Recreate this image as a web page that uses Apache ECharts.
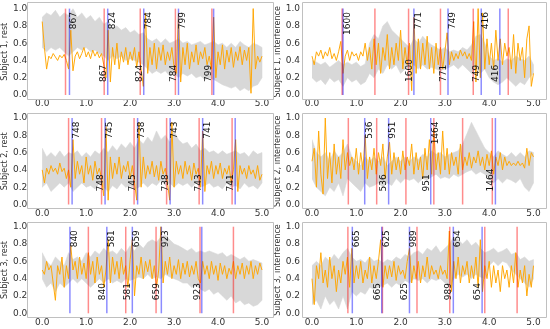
<!DOCTYPE html>
<html><head><meta charset="utf-8">
<script src="https://cdn.jsdelivr.net/npm/echarts@6/dist/echarts.min.js"></script>
<style>html,body{margin:0;padding:0;background:#fff}#c{width:550px;height:329px}</style>
</head><body><div id="c"></div>
<script>
// ---- sample times ----
const T_FINE = [0,.05,.1,.15,.2,.25,.3,.35,.4,.45,.5,.55,.6,.65,.7,.75,.8,.85,.9,.95,
1,1.05,1.1,1.15,1.2,1.25,1.3,1.35,1.4,1.45,1.5,1.55,1.6,1.65,1.7,1.75,1.8,1.85,1.9,1.95,
2,2.05,2.1,2.15,2.2,2.25,2.3,2.35,2.4,2.45,2.5,2.55,2.6,2.65,2.7,2.75,2.8,2.85,2.9,2.95,
3,3.05,3.1,3.15,3.2,3.25,3.3,3.35,3.4,3.45,3.5,3.55,3.6,3.65,3.7,3.75,3.8,3.85,3.9,3.95,
4,4.05,4.1,4.15,4.2,4.25,4.3,4.35,4.4,4.45,4.5,4.55,4.6,4.65,4.7,4.75,4.8,4.85,4.9,4.95,5];
const T_BAND = [0,.1,.2,.3,.4,.5,.6,.7,.8,.9,1,1.1,1.2,1.3,1.4,1.5,1.6,1.7,1.8,1.9,
2,2.1,2.2,2.3,2.4,2.5,2.6,2.7,2.8,2.9,3,3.1,3.2,3.3,3.4,3.5,3.6,3.7,3.8,3.9,
4,4.1,4.2,4.3,4.4,4.5,4.6,4.7,4.8,4.9,5];
const X_TICKS = [0,1,2,3,4,5];
const Y_TICKS = [0,0.2,0.4,0.6,0.8,1.0];
const PANEL_NAMES = ['Subject 1, rest','Subject 1, interference','Subject 2, rest','Subject 2, interference','Subject 3, rest','Subject 3, interference'];

// ---- Subject 1, rest ----
const S1R_ORANGE = [.85,.55,.30,.45,.42,.48,.44,.40,.46,.43,.47,.40,.30,.75,.28,.45,.50,.42,.48,.55,
.44,.50,.42,.52,.45,.50,.43,.48,.35,.20,.75,.15,.55,.35,.60,.30,.50,.38,.55,.35,
.50,.40,.55,.32,.50,.30,.10,.95,.25,.55,.35,.60,.30,.55,.40,.58,.35,.50,.40,.55,
.32,.25,.95,.15,.55,.35,.60,.30,.50,.38,.58,.35,.50,.42,.55,.35,.45,.30,.90,.20,
.50,.35,.58,.30,.52,.38,.55,.32,.50,.40,.56,.35,.52,.40,.55,.02,1.0,.30,.45,.38,.45];
const S1R_HI = [.90,.95,.92,.98,.90,.95,.92,1.0,.90,.95,.88,.92,.85,.90,.82,.85,.78,.80,.75,.78,
.72,.75,.70,.72,.65,.62,.65,.60,.65,.60,.62,.65,.60,.62,.58,.60,.62,.58,.60,.62,
.58,.60,.55,.60,.55,.62,.58,.55,.60,.58,.55];
const S1R_LO = [.55,.50,.55,.52,.55,.50,.45,.50,.55,.52,.55,.50,.52,.48,.45,.40,.45,.42,.45,.40,
.42,.40,.38,.35,.30,.25,.28,.25,.28,.22,.25,.20,.25,.22,.25,.20,.22,.18,.20,.18,
.15,.12,.10,.08,.10,.05,.08,.05,.10,.12,.20];
const S1R_RED = [0.53,1.41,2.23,3.03,3.86];
const S1R_BLUE = [0.62,1.49,2.31,3.10,3.90];
const S1R_LABELS = ['867','824','784','799'];

// ---- Subject 1, interference ----
const S1I_ORANGE = [.45,.35,.50,.45,.52,.42,.50,.45,.55,.42,.48,.40,.50,.62,.25,.45,.52,.40,.50,.45,
.48,.40,.50,.45,.60,.40,.55,.30,.65,.35,.60,.25,.55,.40,.70,.30,.55,.35,.60,.40,
.75,.30,.55,.35,.60,.05,.90,.25,.65,.30,.60,.35,.68,.30,.55,.25,.60,.35,.55,.30,
.50,.72,.35,.50,.40,.48,.42,.52,.45,.50,.42,.48,.40,.85,.15,1.0,.20,.95,.30,.65,
.35,.60,.30,.75,.40,.65,.35,.60,.45,.55,.30,.70,.25,.60,.40,.55,.20,.65,.80,.10,.25];
const S1I_HI = [.40,.38,.35,.38,.32,.36,.40,.35,.38,.35,.38,.33,.36,.60,.70,.65,.80,.85,.75,.70,
.65,.60,.55,.65,.60,.68,.62,.58,.55,.52,.55,.50,.52,.50,.55,.52,.58,.68,.70,.60,
.45,.40,.42,.38,.42,.40,.45,.42,.40,.45,.35];
const S1I_LO = [.20,.15,.18,.12,.20,.15,.18,.10,.20,.15,.18,.12,.15,.25,.20,.30,.25,.35,.30,.35,
.25,.30,.30,.35,.30,.35,.30,.32,.30,.28,.30,.32,.35,.30,.35,.30,.25,.30,.25,.30,
.20,.15,.12,.15,.20,.15,.10,.15,.12,.20,.25];
const S1I_RED = [0.68,1.42,2.18,2.90,3.64,4.43];
const S1I_BLUE = [0.70,2.30,3.07,3.82,4.24];
const S1I_LABELS = ['1600','771','749','416'];

// ---- Subject 2, rest ----
const S2R_ORANGE = [.40,.25,.42,.35,.45,.38,.42,.35,.48,.38,.42,.30,.40,.20,.75,.30,.50,.35,.45,.25,
.55,.35,.45,.28,.50,.35,.42,.30,.10,.90,.05,.55,.30,.48,.35,.55,.30,.45,.38,.50,
.30,.45,.25,.05,.95,.20,.55,.30,.45,.35,.50,.32,.45,.28,.50,.35,.42,.25,.05,.95,
.20,.50,.35,.45,.30,.50,.35,.45,.28,.48,.35,.42,.20,.85,.15,.45,.35,.50,.30,.45,
.35,.48,.30,.42,.35,.45,.25,.40,.75,.15,.45,.35,.42,.30,.45,.35,.40,.30,.45,.28,.35];
const S2R_HI = [.65,.55,.60,.55,.62,.55,.60,.58,.62,.55,.60,.55,.62,.58,.65,.60,.68,.62,.70,.65,
.72,.65,.75,.70,.78,.72,.85,.75,.80,.72,.85,.75,.70,.72,.65,.70,.62,.65,.60,.62,
.58,.62,.58,.60,.62,.58,.60,.55,.62,.58,.60];
const S2R_LO = [.20,.25,.15,.20,.25,.20,.25,.15,.20,.25,.20,.22,.18,.25,.20,.15,.22,.18,.25,.20,
.22,.18,.20,.25,.20,.25,.22,.28,.22,.25,.20,.25,.22,.25,.20,.25,.20,.22,.25,.20,
.22,.18,.25,.20,.22,.18,.25,.20,.22,.18,.25];
const S2R_RED = [0.60,1.35,2.09,2.83,3.57,4.32];
const S2R_BLUE = [0.68,1.43,2.17,2.91,3.65,4.39];
const S2R_LABELS = ['748','745','738','743','741'];

// ---- Subject 2, interference ----
const S2I_ORANGE = [.50,.65,.20,.85,.35,.12,1.0,.30,.60,.25,.70,.35,.55,.30,.75,.40,.60,.45,.55,.40,
.65,.35,.60,.40,.80,.30,.55,.40,.65,.35,.60,.45,.70,.30,.55,.72,.35,.60,.40,.55,
.35,.62,.40,.55,.45,.70,.35,.60,.40,.55,.30,.65,.40,.75,.35,.88,.40,.60,.35,.85,
.40,.65,.35,.60,.45,.55,.35,.70,.40,.55,.45,.60,.42,.55,.48,.62,.45,.55,.40,.58,
.45,.62,.35,.55,.45,.60,.40,.55,.45,.50,.45,.48,.45,.50,.45,.48,.42,.65,.45,.60,.55];
const S2I_HI = [.75,.60,.55,.60,.50,.62,.55,.60,.70,.55,.50,.45,.55,.50,.55,.50,.55,.45,.50,.55,
.50,.55,.50,.55,.52,.58,.55,.62,.58,.60,.55,.58,.60,.62,.70,.82,.95,.85,.75,.65,
.60,.55,.62,.58,.55,.60,.55,.60,.55,.62,.60];
const S2I_LO = [.30,.20,.15,.10,.20,.15,.25,.10,.30,.25,.20,.15,.25,.20,.22,.25,.20,.25,.22,.30,
.25,.30,.28,.30,.25,.30,.28,.32,.35,.30,.32,.30,.35,.32,.35,.38,.40,.35,.38,.35,
.30,.25,.30,.25,.30,.28,.25,.30,.20,.15,.25];
const S2I_RED = [0.82,1.46,2.12,2.75,3.40,4.07];
const S2I_BLUE = [1.19,1.73,2.68,4.14];
const S2I_LABELS = ['536','951','1464'];

// ---- Subject 3, rest ----
const S3R_ORANGE = [.50,.45,.60,.50,.55,.35,.15,.55,.45,.65,.30,.55,.40,.78,.50,.60,.40,.65,.45,.58,
.40,.70,.45,.60,.35,.65,.45,.55,.30,.50,.85,.35,.65,.45,.60,.40,.65,.45,.55,.30,
.62,.85,.20,.55,.45,.65,.40,.60,.48,.62,.40,.55,.30,.50,1.0,.35,.60,.45,.65,.40,
.55,.45,.62,.40,.58,.45,.60,.42,.55,.45,.60,.40,.35,.60,.45,.55,.40,.60,.45,.55,
.38,.58,.45,.55,.40,.52,.45,.60,.40,.55,.45,.58,.40,.55,.45,.60,.40,.55,.45,.58,.50];
const S3R_HI = [.70,.60,.55,.65,.60,.55,.70,.62,.65,.60,.70,.65,.72,.68,.75,.70,.72,.68,.75,.70,
.78,.72,.80,.75,.82,.85,.82,.88,.90,.85,.80,.78,.75,.72,.75,.70,.72,.70,.72,.70,
.68,.70,.65,.68,.65,.62,.65,.60,.62,.60,.58];
const S3R_LO = [.40,.30,.35,.25,.35,.30,.35,.40,.35,.40,.35,.30,.35,.40,.35,.40,.35,.38,.35,.40,
.38,.40,.42,.40,.45,.40,.42,.40,.45,.42,.40,.38,.35,.35,.30,.32,.28,.25,.28,.22,
.25,.20,.15,.20,.12,.15,.10,.12,.08,.10,.15];
const S3R_RED = [1.05,1.90,2.59,3.59,4.35];
const S3R_BLUE = [0.63,1.47,2.05,2.71,3.63];
const S3R_LABELS = ['840','581','659','923'];

// ---- Subject 3, interference ----
const S3I_ORANGE = [.40,.10,.55,.40,.70,.35,.50,.30,.65,.40,.55,.25,.50,.35,.60,.45,.65,.30,.75,.35,
.55,.40,.60,.35,.50,.40,.65,.35,.55,.40,.60,.85,.30,.55,.40,.55,.42,.60,.38,.55,
.45,.50,.40,.60,.75,.35,.55,.40,.60,.35,.55,.42,.65,.40,.55,.45,.50,.40,.55,.45,
.50,.40,.95,.25,.60,.40,.65,.35,.55,.45,.60,.35,.55,.40,.65,.30,.85,.25,.55,.40,
.60,.30,.55,.35,.50,.25,.55,.40,.50,.30,.55,.35,.70,.30,.50,.35,.55,.20,.45,.30,.55];
const S3I_HI = [.55,.60,.55,.65,.60,.68,.62,.70,.75,.65,.60,.62,.58,.65,.60,.62,.58,.62,.60,.65,
.62,.68,.65,.70,.72,.68,.75,.72,.78,.70,.75,.80,.88,.85,.80,.85,.78,.82,.75,.70,
.72,.75,.70,.72,.75,.68,.70,.62,.65,.60,.62];
const S3I_LO = [.10,.15,.05,.20,.10,.15,.05,.20,.05,.25,.20,.25,.22,.30,.28,.30,.32,.35,.30,.35,
.32,.38,.35,.40,.38,.40,.35,.40,.38,.40,.35,.30,.40,.45,.42,.45,.40,.45,.42,.40,
.55,.60,.55,.60,.58,.50,.45,.40,.35,.30,.40];
const S3I_RED = [0.81,1.59,2.37,3.11,3.90,4.63];
const S3I_BLUE = [0.91,1.575,2.20,3.19,3.84];
const S3I_LABELS = ['665','625','989','654'];

// ---- build ----
const PANELS = [
  {orange:S1R_ORANGE, hi:S1R_HI, lo:S1R_LO, red:S1R_RED, blue:S1R_BLUE, labels:S1R_LABELS},
  {orange:S1I_ORANGE, hi:S1I_HI, lo:S1I_LO, red:S1I_RED, blue:S1I_BLUE, labels:S1I_LABELS},
  {orange:S2R_ORANGE, hi:S2R_HI, lo:S2R_LO, red:S2R_RED, blue:S2R_BLUE, labels:S2R_LABELS},
  {orange:S2I_ORANGE, hi:S2I_HI, lo:S2I_LO, red:S2I_RED, blue:S2I_BLUE, labels:S2I_LABELS},
  {orange:S3R_ORANGE, hi:S3R_HI, lo:S3R_LO, red:S3R_RED, blue:S3R_BLUE, labels:S3R_LABELS},
  {orange:S3I_ORANGE, hi:S3I_HI, lo:S3I_LO, red:S3I_RED, blue:S3I_BLUE, labels:S3I_LABELS}
];

const FONT = '"DejaVu Sans", "Liberation Sans", sans-serif';
const TXT = '#333';
const COLS = [
  {x0:40.5, x5:262, fl:27, fr:273, nameGap:28.5, lblMargin:15},
  {x0:312, x5:533.5, fl:302, fr:546, nameGap:28.5, lblMargin:12}
];
const ROWS = [
  {y1:8.6, y0:95, ft:2, fb:99},
  {y1:118, y0:204.5, ft:112.7, fb:208},
  {y1:226.7, y0:313.3, ft:221.7, fb:316.7}
];
const TOP_LABEL_Y = 0.96, BOT_LABEL_Y = 0.15;

const grids = [], xAxes = [], yAxes = [], series = [], graphics = [];
PANELS.forEach((p, i) => {
  const col = COLS[i % 2], row = ROWS[Math.floor(i / 2)];
  grids.push({left: col.x0, top: row.y1, width: col.x5 - col.x0, height: row.y0 - row.y1, containLabel: false});
  xAxes.push({gridIndex: i, type: 'value', min: X_TICKS[0], max: X_TICKS[X_TICKS.length-1], interval: 1,
    axisLine: {show: false}, axisTick: {show: false}, splitLine: {show: false},
    axisLabel: {margin: 4.5, fontSize: 9, color: TXT, fontFamily: FONT, formatter: v => Number(v).toFixed(1)}});
  yAxes.push({gridIndex: i, type: 'value', min: Y_TICKS[0], max: Y_TICKS[Y_TICKS.length-1], interval: 0.2,
    name: PANEL_NAMES[i], nameLocation: 'middle', nameGap: col.nameGap, nameRotate: 90,
    nameTextStyle: {fontSize: 8, color: TXT, fontFamily: FONT},
    axisLine: {show: false}, axisTick: {show: false}, splitLine: {show: false},
    axisLabel: {margin: col.lblMargin, fontSize: 9, color: TXT, fontFamily: FONT, formatter: v => Number(v).toFixed(1)}});

  // grey band
  series.push({type: 'custom', xAxisIndex: i, yAxisIndex: i, z: 1, clip: true,
    data: [[T_BAND[0], p.lo[0]]],
    renderItem: (params, api) => {
      const up = p.hi.map((v, k) => api.coord([T_BAND[k], v]));
      const dn = p.lo.map((v, k) => api.coord([T_BAND[k], v])).reverse();
      return {type: 'polygon', shape: {points: up.concat(dn)}, style: {fill: '#d8d8d8', stroke: '#d8d8d8', lineWidth: 0.6}};
    }});
  // orange trace
  series.push({type: 'line', xAxisIndex: i, yAxisIndex: i, z: 2, symbol: 'none', showSymbol: false,
    data: T_FINE.map((t, k) => [t, p.orange[k]]),
    lineStyle: {color: 'rgba(255,165,0,0.95)', width: 1}});
  // vertical event lines
  [[p.red, 'rgba(255,0,0,0.45)'], [p.blue, 'rgba(0,0,255,0.45)']].forEach(([arr, color]) => {
    series.push({type: 'custom', xAxisIndex: i, yAxisIndex: i, z: 3,
      data: arr.map(v => [v, 0]),
      renderItem: (params, api) => {
        const a = api.coord([api.value(0), 0]), b = api.coord([api.value(0), 1]);
        return {type: 'line', shape: {x1: a[0], y1: a[1], x2: b[0], y2: b[1]}, style: {stroke: color, lineWidth: 1.5}};
      }});
  });
  // interval labels
  const items = [];
  p.labels.forEach((txt, k) => {
    items.push({x: p.blue[k], y: TOP_LABEL_Y, t: txt, top: true});
    items.push({x: p.blue[k + 1], y: BOT_LABEL_Y, t: txt, top: false});
  });
  series.push({type: 'custom', xAxisIndex: i, yAxisIndex: i, z: 4, clip: false,
    data: items.map(it => [it.x, it.y]),
    renderItem: (params, api) => {
      const it = items[params.dataIndex];
      const c = api.coord([api.value(0), api.value(1)]);
      return {type: 'text', x: c[0], y: c[1], rotation: Math.PI / 2,
        style: {text: it.t, fill: '#111', font: '9px ' + FONT,
          align: it.top ? 'right' : 'left', verticalAlign: it.top ? 'top' : 'bottom'}};
    }});
  // frame
  graphics.push({type: 'rect', silent: true, z: 100,
    shape: {x: Math.round(col.fl) + 0.5, y: Math.round(row.ft) + 0.5, width: Math.round(col.fr - col.fl), height: Math.round(row.fb - row.ft)},
    style: {fill: null, stroke: '#c0c0c0', lineWidth: 1}});
});

const chart = echarts.init(document.getElementById('c'), null, {renderer: 'canvas'});
chart.setOption({animation: false, backgroundColor: '#fff', grid: grids, xAxis: xAxes, yAxis: yAxes, series: series, graphic: graphics});
</script>
</body></html>
